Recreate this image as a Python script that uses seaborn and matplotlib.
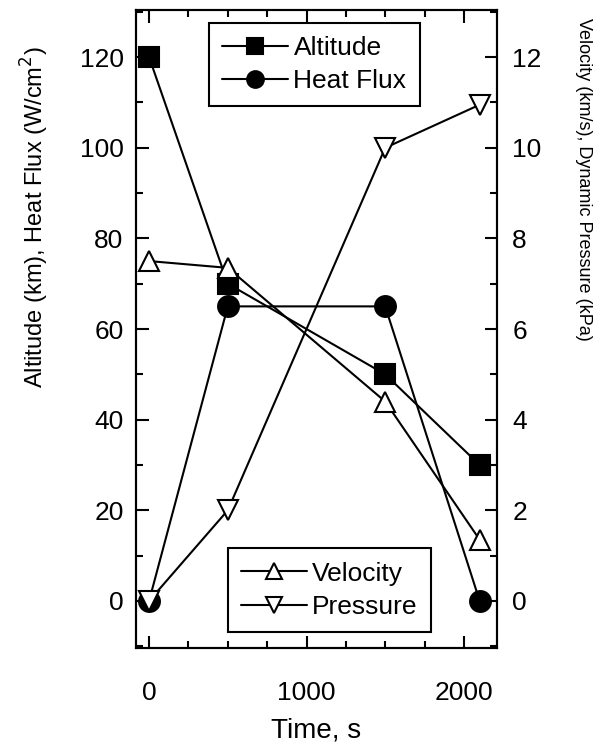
import matplotlib
matplotlib.use("Agg")
import matplotlib.pyplot as plt
from matplotlib.ticker import MultipleLocator
import seaborn as sns

sns.set_style("ticks")
plt.rcParams["font.family"] = ["Liberation Sans", "DejaVu Sans"]
plt.rcParams.update({"text.color": "black", "axes.labelcolor": "black",
                     "xtick.color": "black", "ytick.color": "black",
                     "axes.edgecolor": "black"})

# Trajectory data
time_s = [0, 500, 1500, 2100]
altitude_km = [120, 70, 50, 30]
heat_flux = [0, 65, 65, 0]
velocity_kms = [7.5, 7.35, 4.4, 1.35]
pressure_kpa = [0, 2.0, 10.0, 10.95]

fig = plt.figure(figsize=(6, 7.49), dpi=100)
ax = fig.add_axes([0.2267, 0.1348, 0.6016, 0.8518])
ax2 = ax.twinx()

lw = 1.5
ms = 15
common = dict(color="black", linewidth=lw, markersize=ms, markeredgecolor="black",
              markeredgewidth=1.5)

sns.lineplot(x=time_s, y=altitude_km, marker="s", ax=ax, label="Altitude",
             markerfacecolor="black", **common)
sns.lineplot(x=time_s, y=heat_flux, marker="o", ax=ax, label="Heat Flux",
             markerfacecolor="black", **common)
sns.lineplot(x=time_s, y=velocity_kms, marker="^", ax=ax2, label="Velocity",
             markerfacecolor="white", **common)
sns.lineplot(x=time_s, y=pressure_kpa, marker="v", ax=ax2, label="Pressure",
             markerfacecolor="white", **common)

ax.set_xlim(-83, 2210)
ax.set_ylim(-10.4, 130.4)
ax2.set_ylim(-1.04, 13.04)

ax.xaxis.set_major_locator(MultipleLocator(1000))
ax.xaxis.set_minor_locator(MultipleLocator(250))
ax.yaxis.set_major_locator(MultipleLocator(20))
ax.yaxis.set_minor_locator(MultipleLocator(10))
ax2.yaxis.set_major_locator(MultipleLocator(2))
ax2.yaxis.set_minor_locator(MultipleLocator(1))

tfs = 19
ax.tick_params(axis="both", which="major", direction="in", length=9, width=1.5,
               labelsize=tfs, top=True, colors="black")
ax.tick_params(axis="x", which="major", pad=24)
ax.tick_params(axis="y", which="major", pad=9)
ax.tick_params(axis="both", which="minor", direction="in", length=5, width=1.5,
               top=True, colors="black")
ax.tick_params(axis="y", right=False)
ax2.tick_params(axis="y", which="major", direction="in", length=9, width=1.5,
                labelsize=tfs, pad=11, colors="black")
ax2.tick_params(axis="y", which="minor", direction="in", length=5, width=1.5,
                colors="black")

for a in (ax, ax2):
    for s in a.spines.values():
        s.set_linewidth(1.5)
        s.set_color("black")

ax.set_xlabel("Time, s", fontsize=20, labelpad=9, color="black")
ax.set_ylabel("Altitude (km), Heat Flux (W/cm$^2$)", fontsize=17, color="black")
ax.yaxis.set_label_coords(-0.28, 0.675)
ax.yaxis.label.set_verticalalignment("center")

ax2.set_ylabel("Velocity (km/s), Dynamic Pressure (kPa)", fontsize=13,
               rotation=270, color="black")
ax2.yaxis.set_label_coords(1.24, 0.735)
ax2.yaxis.label.set_verticalalignment("center")

leg_kw = dict(fontsize=19, frameon=True, fancybox=False, edgecolor="black",
              framealpha=1, handlelength=2.5, handletextpad=0.2, borderpad=0.5,
              labelspacing=0.35, borderaxespad=0, labelcolor="black")
leg1 = ax.legend(loc="upper center", bbox_to_anchor=(0.494, 0.98), **leg_kw)
leg1.get_frame().set_linewidth(1.5)
leg2 = ax2.legend(loc="lower center", bbox_to_anchor=(0.536, 0.025), **leg_kw)
leg2.get_frame().set_linewidth(1.5)
for lg in (leg1, leg2):
    for h in lg.legend_handles:
        h.set_markersize(12)

fig.savefig("out.png", dpi=100)
